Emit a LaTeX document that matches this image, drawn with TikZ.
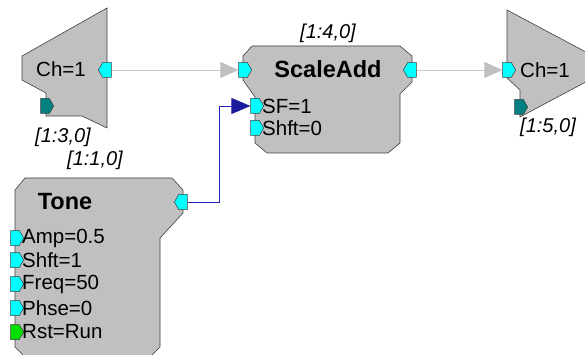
\documentclass[tikz,border=0pt]{standalone}
\usepackage{fontspec}
\setmainfont{Liberation Sans}
\usepackage{tikz}
\usetikzlibrary{arrows.meta,shapes.symbols}
\definecolor{blockgray}{HTML}{C0C0C0}
\definecolor{edgegray}{HTML}{404040}
\definecolor{wiregray}{HTML}{C8C8C8}
\definecolor{wireblue}{HTML}{2020C0}
\definecolor{portcyan}{HTML}{00FFFF}
\definecolor{portteal}{HTML}{008080}
\definecolor{portgreen}{HTML}{00E000}

\begin{document}
\begin{tikzpicture}[x=1pt,y=-1pt,
    block/.style={fill=blockgray,draw=edgegray,line width=0.6pt},
    port/.style={signal,draw=edgegray,line width=0.5pt,inner sep=0pt,
        minimum width=13pt,minimum height=15pt,signal pointer angle=120},
    inport/.style={port,signal to=east},
    outport/.style={port,signal to=west},
    lbl/.style={inner sep=0pt,font=\fontsize{20.5}{23}\selectfont},
    parm/.style={lbl,anchor=west},
    title/.style={inner sep=0pt,font=\fontsize{23.5}{27}\selectfont\bfseries},
    idx/.style={inner sep=0pt,font=\fontsize{20}{23}\selectfont\itshape},
    graywire/.style={draw=wiregray,line width=0.8pt,
        -{Triangle[length=18pt,width=16pt,color=blockgray,fill=blockgray]}},
    bluewire/.style={draw=wireblue,line width=0.8pt,
        -{Triangle[length=19pt,width=16pt,color=wireblue!80!black,fill=wireblue!80!black]}}]
\useasboundingbox (0,0) rectangle (585,355);
\clip (0,0) rectangle (585,355);

% Input channel [1:3,0]
\draw[block] (107,8) -- (107,128) -- (82,116) -- (46,116) -- (46,93)
    -- (22,80) -- (22,56) -- cycle;
\node[lbl] (chinlbl) at (61,69) {Ch=1};
\node[outport,fill=portcyan] (chout) at (107,70) {};
\node[inport,fill=portteal] (chinaux) at (45,106) {};
\node[idx] (chinidx) at (63,137) {[1:3,0]};

% ScaleAdd [1:4,0]
\draw[block] (252,46) -- (400,46) -- (412,56) -- (412,82) -- (400,94)
    -- (400,143) -- (388,153) -- (267,153) -- (255,143) -- (255,97)
    -- (243,80) -- (243,56) -- cycle;
\node[title] (sattl) at (328,69) {ScaleAdd};
\node[idx] (saidx) at (328,33) {[1:4,0]};
\node[inport,fill=portcyan] (sain) at (243,70) {};
\node[outport,fill=portcyan] (saout) at (412,70) {};
\node[inport,fill=portcyan] (sfin) at (255,106) {};
\node[inport,fill=portcyan] (shftin) at (255,128) {};
\node[parm] (sflbl) at (262,106) {SF=1};
\node[parm] (shftlbl) at (262,128) {Shft=0};

% Output channel [1:5,0]
\draw[block] (507,10) -- (614,67) -- (520,117) -- (520,90) -- (507,78) -- cycle;
\node[lbl] (choutlbl) at (545,70) {Ch=1};
\node[inport,fill=portcyan] (chin) at (507,70) {};
\node[inport,fill=portteal] (choutaux) at (519,107) {};
\node[idx] (choutidx) at (548,127) {[1:5,0]};

% Tone [1:1,0]
\draw[block] (25,178) -- (172,178) -- (183,190) -- (183,213) -- (160,238)
    -- (160,347) -- (150,357) -- (25,357) -- (15,347) -- (15,190) -- cycle;
\node[title] (tonettl) at (65,202) {Tone};
\node[idx] (toneidx) at (95,160) {[1:1,0]};
\node[outport,fill=portcyan] (toneout) at (183,202) {};
\foreach \y/\txt/\c in {238/Amp=0.5/portcyan,260/Shft=1/portcyan,
    284/Freq=50/portcyan,308/Phse=0/portcyan,332/Rst=Run/portgreen} {
    \node[inport,fill=\c] (tonein\y) at (15,\y) {};
    \node[parm] (tonelbl\y) at (22,\y) {\txt};
}

% Wires
\draw[graywire] (chout.east) -- (sain.west);
\draw[graywire] (saout.east) -- (chin.west);
\draw[bluewire] (toneout.east) -- ++(32,0) |- (sfin.west);

\end{tikzpicture}
\end{document}
